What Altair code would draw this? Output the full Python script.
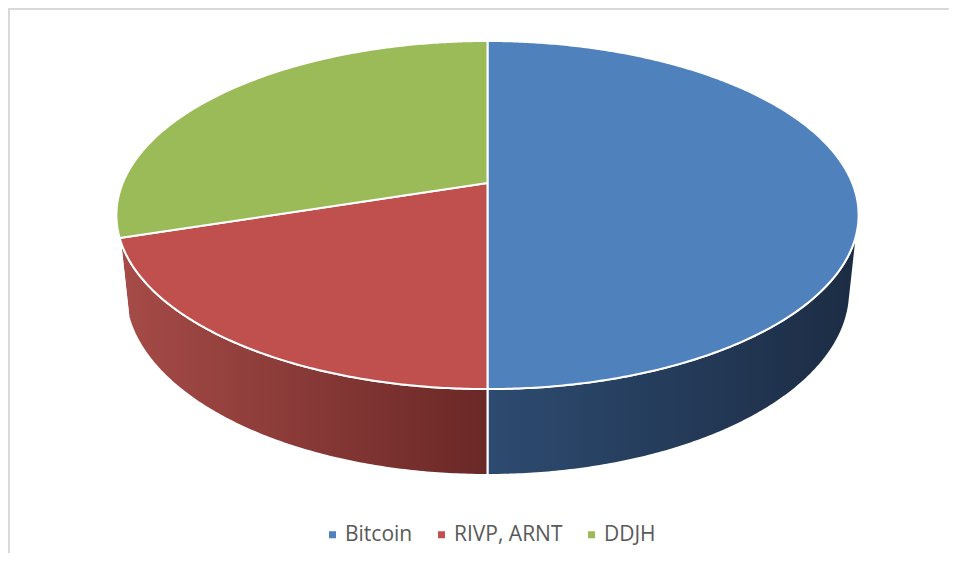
import numpy as np
import pandas as pd
import altair as alt

# ---- data ----
categories = ["Bitcoin", "RIVP, ARNT", "DDJH"]
values = [50, 20, 30]

# ---- styles ----
top_colors = ["#4f81bd", "#c0504d", "#9bbb59"]
wall_left = ["#2d4b70", "#a64b48", "#7f9c45"]
wall_right = ["#1c2c44", "#6a2826", "#63802e"]

# ---- layout / 3-D view parameters ----
W, HC = 941, 545
CX, CY = 479.5, 175.0
F = 1758.0
DIST = 4.82
TILT = np.arcsin(0.461)
THICK = 0.237
SA, CA = np.sin(TILT), np.cos(TILT)
PHI = np.degrees(np.arccos(1.0 / (DIST * CA)))  # silhouette of the side wall


def project(theta_deg, Y):
    t = np.radians(theta_deg)
    X = np.sin(t) * np.ones_like(Y)
    Z = -np.cos(t) * np.ones_like(Y)
    depth = Y * SA + Z * CA
    den = DIST - depth
    sx = CX + F * X / den
    sy = CY - F * (Y * CA - Z * SA) / den
    return sx, sy


cum = np.concatenate([[0], np.cumsum(values)]) / sum(values) * 360.0

top_rows, wall_rows = [], []
for i, cat in enumerate(categories):
    a, b = cum[i], cum[i + 1]
    n = max(int((b - a) / 0.5), 2)
    th = np.linspace(a, b, n + 1)
    pts = [(CX, CY)]
    sx, sy = project(th, np.zeros_like(th))
    pts += list(zip(sx, sy))
    pts.append((CX, CY))
    for k, (px, py) in enumerate(pts):
        top_rows.append({"slice": cat, "idx": k, "x": px, "y": py})

    lo, hi = max(a, 180 - PHI), min(b, 180 + PHI)
    if hi > lo:
        m = max(int((hi - lo) / 0.5), 2)
        th = np.linspace(lo, hi, m + 1)
        tx, ty = project(th, np.zeros_like(th))
        bx, by = project(th[::-1], np.full_like(th, -THICK))
        xs = list(tx) + list(bx) + [tx[0]]
        ys = list(ty) + list(by) + [ty[0]]
        for k, (px, py) in enumerate(zip(xs, ys)):
            wall_rows.append({"slice": cat, "idx": k, "x": px, "y": py})

top_df = pd.DataFrame(top_rows)
wall_df = pd.DataFrame(wall_rows)

xs = alt.Scale(domain=[0, W], nice=False, zero=False)
ys = alt.Scale(domain=[0, HC], nice=False, zero=False, reverse=True)
X = alt.X("x:Q", scale=xs, axis=None)
Y = alt.Y("y:Q", scale=ys, axis=None)

layers = []
for i, cat in enumerate(categories):
    sub = wall_df[wall_df["slice"] == cat]
    if len(sub) == 0:
        continue
    grad = alt.LinearGradient(
        gradient="linear",
        stops=[alt.GradientStop(color=wall_left[i], offset=0),
               alt.GradientStop(color=wall_right[i], offset=1)],
        x1=0, x2=1, y1=0, y2=0,
    )
    layers.append(
        alt.Chart(sub).mark_line(fill=grad, stroke="white", strokeWidth=2)
        .encode(x=X, y=Y, order="idx:Q")
    )

top = alt.Chart(top_df).mark_line(filled=True, stroke="white", strokeWidth=2,
                                  strokeJoin="round").encode(
    x=X, y=Y, order="idx:Q",
    color=alt.Color(
        "slice:N",
        sort=categories,
        scale=alt.Scale(domain=categories, range=top_colors),
        legend=alt.Legend(
            title=None, orient="none", legendX=314, legendY=516,
            direction="horizontal", symbolType="square", symbolSize=49,
            symbolStrokeWidth=0, labelFont="Open Sans", labelFontSize=21,
            labelColor="#595959", labelOffset=2, columnPadding=18, padding=0,
        ),
    ),
)
layers.append(top)

# frame strips (left and top edges of the chart box)
frame_df = pd.DataFrame({"x": [0, 0], "x2": [2, W], "y": [0, 0], "y2": [HC, 2]})
frame = alt.Chart(frame_df).mark_rect(color="#d9d9d9", strokeWidth=0).encode(
    x=alt.X("x:Q", scale=xs, axis=None), x2="x2:Q",
    y=alt.Y("y:Q", scale=ys, axis=None), y2="y2:Q")
layers.append(frame)

chart = alt.layer(*layers).properties(
    width=W, height=HC, padding=0,
    autosize=alt.AutoSizeParams(type="none"),
).configure_view(strokeOpacity=0, strokeWidth=0, fill="white")

chart.save("out.html", embed_options={"renderer": "svg", "actions": False})
